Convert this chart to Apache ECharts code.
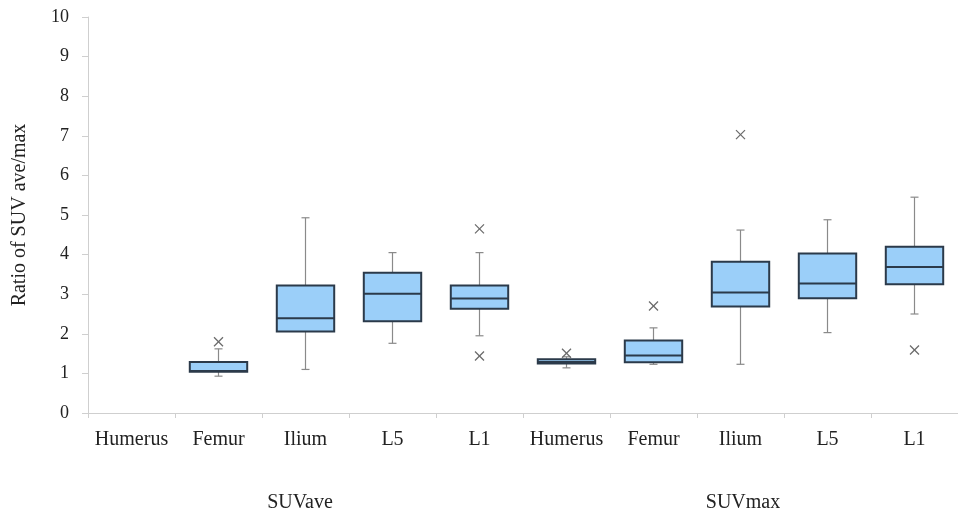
<!DOCTYPE html>
<html>
<head>
<meta charset="utf-8">
<script src="https://cdn.jsdelivr.net/npm/echarts@6/dist/echarts.min.js"></script>
<style>
  html, body { margin: 0; padding: 0; background: #fff; }
  #chart { width: 958px; height: 515px; }
</style>
</head>
<body>
<div id="chart"></div>
<script>
// Bone sites, shown once for SUVave and once for SUVmax
const categories = ['Humerus', 'Femur', 'Ilium', 'L5', 'L1', 'Humerus', 'Femur', 'Ilium', 'L5', 'L1'];
const groupLabels = ['SUVave', 'SUVmax'];
const yTicks = [0, 1, 2, 3, 4, 5, 6, 7, 8, 9, 10];

// Five-number summaries per category (null = no data)
const lows    = [null, 0.93, 1.10, 1.76, 1.95, 1.14, 1.23, 1.23, 2.03, 2.50];
const q1s     = [null, 1.04, 2.06, 2.32, 2.63, 1.25, 1.28, 2.69, 2.90, 3.25];
const medians = [null, 1.06, 2.39, 3.01, 2.89, 1.29, 1.45, 3.04, 3.27, 3.69];
const q3s     = [null, 1.29, 3.22, 3.54, 3.22, 1.36, 1.83, 3.82, 4.03, 4.20];
const highs   = [null, 1.62, 4.93, 4.05, 4.05, 1.42, 2.15, 4.62, 4.88, 5.45];

// Outliers: [category index, value]
const outliers = [[1, 1.80], [4, 4.65], [4, 1.44], [5, 1.51], [6, 2.70], [7, 7.03], [9, 1.59]];

const boxData = [];
categories.forEach((c, i) => {
  if (q1s[i] != null) boxData.push([i, lows[i], q1s[i], medians[i], q3s[i], highs[i]]);
});

const serif = '"Liberation Serif", "DejaVu Serif", serif';
const chart = echarts.init(document.getElementById('chart'));

function renderBox(params, api) {
  const i = api.value(0);
  const bandW = api.size([1, 0])[0];
  const w = bandW * 0.66;
  const cap = 4;
  const pLow = api.coord([i, api.value(1)]);
  const pQ1 = api.coord([i, api.value(2)]);
  const pMed = api.coord([i, api.value(3)]);
  const pQ3 = api.coord([i, api.value(4)]);
  const pHigh = api.coord([i, api.value(5)]);
  const x = pQ1[0];
  const whisker = { stroke: '#8a8a8a', lineWidth: 1.2 };
  const dark = '#2b3a4a';
  return {
    type: 'group',
    children: [
      { type: 'line', shape: { x1: x, y1: pQ3[1], x2: x, y2: pHigh[1] }, style: whisker },
      { type: 'line', shape: { x1: x, y1: pQ1[1], x2: x, y2: pLow[1] }, style: whisker },
      { type: 'line', shape: { x1: x - cap, y1: pHigh[1], x2: x + cap, y2: pHigh[1] }, style: whisker },
      { type: 'line', shape: { x1: x - cap, y1: pLow[1], x2: x + cap, y2: pLow[1] }, style: whisker },
      { type: 'rect', shape: { x: x - w / 2, y: pQ3[1], width: w, height: pQ1[1] - pQ3[1] },
        style: { fill: '#9bcff9', stroke: dark, lineWidth: 2 } },
      { type: 'line', shape: { x1: x - w / 2, y1: pMed[1], x2: x + w / 2, y2: pMed[1] },
        style: { stroke: dark, lineWidth: 2 } }
    ]
  };
}

function renderCross(params, api) {
  const p = api.coord([api.value(0), api.value(1)]);
  const s = 4.5;
  const st = { stroke: '#6a6a6a', lineWidth: 1.3 };
  return {
    type: 'group',
    children: [
      { type: 'line', shape: { x1: p[0] - s, y1: p[1] - s, x2: p[0] + s, y2: p[1] + s }, style: st },
      { type: 'line', shape: { x1: p[0] - s, y1: p[1] + s, x2: p[0] + s, y2: p[1] - s }, style: st }
    ]
  };
}

chart.setOption({
  animation: false,
  grid: { left: 88, right: -5, top: 17, bottom: 102 },
  xAxis: {
    type: 'category',
    data: categories,
    boundaryGap: true,
    axisLine: { lineStyle: { color: '#cfcfcf', width: 1 } },
    axisTick: { show: true, length: 5, lineStyle: { color: '#cfcfcf' } },
    axisLabel: { color: '#222', fontFamily: serif, fontSize: 20, margin: 17, interval: 0 },
    splitLine: { show: false }
  },
  yAxis: {
    type: 'value',
    min: yTicks[0],
    max: yTicks[yTicks.length - 1],
    interval: 1,
    name: 'Ratio of SUV ave/max',
    nameLocation: 'middle',
    nameGap: 58,
    nameTextStyle: { color: '#222', fontFamily: serif, fontSize: 20 },
    axisLine: { show: true, lineStyle: { color: '#cfcfcf', width: 1 } },
    axisTick: { show: true, length: 6, lineStyle: { color: '#cfcfcf' } },
    axisLabel: { color: '#222', fontFamily: serif, fontSize: 18, margin: 19 },
    splitLine: { show: false }
  },
  graphic: [
    { type: 'text', x: 300, y: 503, style: { text: groupLabels[0], fill: '#222', font: '20px ' + serif, align: 'center', verticalAlign: 'middle' } },
    { type: 'text', x: 743, y: 503, style: { text: groupLabels[1], fill: '#222', font: '20px ' + serif, align: 'center', verticalAlign: 'middle' } }
  ],
  series: [
    {
      type: 'custom',
      renderItem: renderBox,
      data: boxData,
      encode: { x: 0, y: [1, 2, 3, 4, 5] },
      z: 2
    },
    {
      type: 'custom',
      renderItem: renderCross,
      data: outliers,
      encode: { x: 0, y: 1 },
      z: 3
    }
  ]
});
</script>
</body>
</html>
